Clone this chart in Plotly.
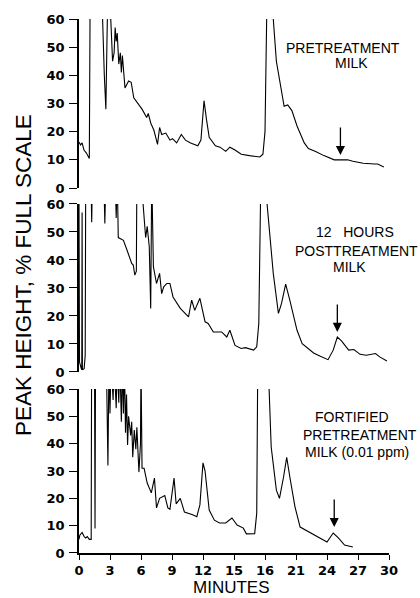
import plotly.graph_objects as go

# ---- data (minutes, % full scale) ----
top_t = [0.0,0.15,0.3,0.48,0.7,1.0,1.08,2.2,2.45,2.6,2.75,2.95,3.05,3.25,3.4,3.5,3.6,3.7,3.85,4.0,4.1,4.2,4.45,4.8,5.05,5.3,6.1,6.55,6.7,6.95,7.25,7.6,7.8,8.0,8.4,8.8,9.05,9.45,9.9,10.3,10.8,11.5,11.8,12.1,12.35,12.6,13.2,13.65,14.2,14.6,15.1,15.7,16.5,17.5,17.8,18.0,18.2,18.8,19.1,19.4,19.85,20.2,20.6,21.1,21.8,22.2,22.9,23.7,24.7,25.2,26.0,26.5,27.5,28.6,28.9,29.5]
top_v = [16.3,15.3,16,13.5,12.5,10.5,70,70,40,28,62,60,62,45,48,57,52,55,44,48,41,47,35.5,38,37.5,32,28,25,26.5,23,20.5,15.5,21.5,19,19.5,17,17.5,16,19,17,16,15,17,31,24,18,15,14.5,13,14.5,13.5,12,11.5,11,12,20,70,60,45,38,29,29.5,27.5,22,16,14,13,11.5,10,10,10,9.5,8.8,8.5,8.5,7.5]

mid_t = [0.0,0.05,0.2,0.27,0.3,0.33,0.5,0.6,0.65,1.15,1.23,1.3,2.4,2.5,2.6,3.5,3.6,3.7,3.8,4.3,4.6,5.1,5.25,5.4,5.55,5.6,6.1,6.2,6.45,6.6,6.8,6.94,7.04,7.2,7.5,7.8,8.0,8.2,8.5,8.8,9.1,9.8,10.6,10.9,11.2,11.7,12.2,12.5,13.0,13.8,14.3,14.6,15.1,15.7,16.1,16.9,17.2,17.4,17.6,18.2,18.8,19.3,19.6,20.0,20.4,21.1,21.6,22.7,23.3,24.1,24.6,25.0,25.4,26.1,26.6,27.2,27.8,28.7,29.1,29.8]
mid_v = [60,3.5,1.5,0.8,57,0.8,1.2,6,70,70,53.5,70,70,53,70,70,55,70,48,47,44,38.8,38.2,34.6,36,70,70,60,48,52,44.7,22.7,70,37.6,31.6,35.2,28,30.4,31.6,31.6,26.8,22.7,19.7,25.7,22,26.3,17.9,17.3,14.3,14.3,12.5,14.9,9.5,8.4,8.7,7.8,9,17.3,70,60,35.2,20.9,24.5,31.4,25.7,14.9,10.1,6.8,5.7,4.4,7.8,12.5,11.1,7.8,8,6.3,6,6.6,5.4,3.9]

bot_t = [0.0,0.08,0.3,0.5,0.65,0.8,1.0,1.18,1.22,1.5,1.55,1.6,2.65,2.8,2.9,3.0,3.1,3.3,3.4,3.6,3.7,3.85,3.95,4.1,4.2,4.3,4.4,4.5,4.6,4.7,4.8,5.0,5.1,5.2,5.35,5.5,5.6,5.8,5.95,6.0,6.1,6.3,6.6,7.0,7.3,7.5,7.8,8.3,8.6,8.8,9.2,9.4,9.8,10.2,11.0,11.4,11.7,12.0,12.2,12.6,13.1,13.6,14.2,14.8,15.3,15.9,16.2,17.0,17.2,17.3,18.3,18.6,19.1,19.4,19.8,20.1,20.4,20.9,21.4,22.7,24.0,24.6,25.1,25.7,26.5]
bot_v = [5,6.5,7.5,6,5.5,6,5,5,70,70,9,70,70,32,70,51,70,56,70,53,70,55,70,48,70,51,70,44,58,39.5,50,43,48,35,45,38,46,29.6,40,70,31,31,25.6,22,27.4,16.5,20,21,16.5,16,27.4,18,20,15,14,13.3,17.6,33,30,15.7,12,11,11,12.8,10.2,9.1,7,7.1,14.6,70,70,38.8,23,20,27.9,35,27.9,16.9,9.5,6.6,4,7.3,5.5,2.9,2.2]

y_ticks = [0, 10, 20, 30, 40, 50, 60]
x_ticks = [0, 3, 6, 9, 12, 15, 18, 21, 24, 27, 30]
x_ticktext = ["0", "3", "6", "9", "12", "15", "16", "21", "24", "27", "30"]

panel_lines = [["PRETREATMENT", "MILK"],
               ["12   HOURS", "POSTTREATMENT", "MILK"],
               ["FORTIFIED", "PRETREATMENT", "MILK (0.01 ppm)"]]
arrow_t = [25.3, 25.0, 24.7]
arrow_v = [11.7, 14.3, 9.5]

FONT = "Liberation Sans, Arial, Helvetica, sans-serif"
TICKFONT = "DejaVu Sans, Liberation Sans, Arial, sans-serif"

# plot area in page pixels (layout only)
L, R, T, B = 79, 389, 19, 553
def px_to_paper(px, py):
    return (px - L) / (R - L), (B - py) / (B - T)

fig = go.Figure()
series = [(top_t, top_v, "x", "y"), (mid_t, mid_v, "x2", "y2"), (bot_t, bot_v, "x3", "y3")]
for t, v, xa, ya in series:
    fig.add_trace(go.Scatter(x=t, y=v, xaxis=xa, yaxis=ya, mode="lines",
                             line=dict(color="black", width=1.1), showlegend=False,
                             hoverinfo="skip"))

domains = [[0.6835, 1.0], [0.339, 0.6536], [0.0, 0.3071]]
yax_common = dict(range=[0, 60], tickvals=y_ticks, ticks="outside", ticklen=8,
                  tickwidth=1.3, tickcolor="black", showline=True, linecolor="black",
                  linewidth=1.5, showgrid=False, zeroline=False, ticklabelstandoff=2,
                  tickfont=dict(family=TICKFONT, size=13, color="black", weight="bold"))
xax_hidden = dict(range=[0, 30], visible=False)

fig.update_layout(
    width=420, height=598,
    margin=dict(l=L, r=420 - R, t=T, b=598 - B),
    paper_bgcolor="white", plot_bgcolor="white",
    xaxis=dict(anchor="y", **xax_hidden),
    xaxis2=dict(anchor="y2", **xax_hidden),
    xaxis3=dict(anchor="y3", range=[0, 30], tickvals=x_ticks, ticktext=x_ticktext,
                ticks="outside", ticklen=5, tickwidth=1.3, tickcolor="black",
                showline=True, linecolor="black", linewidth=1.5, showgrid=False,
                zeroline=False,
                tickfont=dict(family=TICKFONT, size=13, color="black", weight="bold")),
    yaxis=dict(anchor="x", domain=domains[0], **yax_common),
    yaxis2=dict(anchor="x2", domain=domains[1], **yax_common),
    yaxis3=dict(anchor="x3", domain=domains[2], **yax_common),
)

ann = []
line_px = [[(343, 48), (351, 63)],
           [(355, 232), (356, 251), (349, 267)],
           [(352, 417), (360, 435), (357, 452)]]
for lines, poss in zip(panel_lines, line_px):
    for txt, (px, py) in zip(lines, poss):
        xp, yp = px_to_paper(px, py)
        ann.append(dict(x=xp, y=yp, xref="paper", yref="paper", text=txt,
                        showarrow=False, xanchor="center", yanchor="middle",
                        font=dict(family=FONT, size=14, color="black")))
axrefs = [("x", "y"), ("x2", "y2"), ("x3", "y3")]
for (xr, yr), at, av in zip(axrefs, arrow_t, arrow_v):
    ann.append(dict(x=at, y=av, xref=xr, yref=yr, text="", showarrow=True,
                    ax=0, ay=-29, arrowhead=2, arrowsize=1.4, arrowwidth=1.3,
                    arrowcolor="black"))
xp, yp = px_to_paper(23, 275)
ann.append(dict(x=xp, y=yp, xref="paper", yref="paper",
                text="PEAK HEIGHT, % FULL SCALE", textangle=-90, showarrow=False,
                xanchor="center", yanchor="middle",
                font=dict(family=FONT, size=22.5, color="black")))
xp, yp = px_to_paper(231, 587)
ann.append(dict(x=xp, y=yp, xref="paper", yref="paper", text="MINUTES",
                showarrow=False, xanchor="center", yanchor="middle",
                font=dict(family=FONT, size=17, color="black")))
fig.update_layout(annotations=ann)

fig.write_html("out.html", config={"displayModeBar": False},
               post_script="document.body.style.margin='0';document.body.style.padding='0';document.body.style.overflow='hidden';")
